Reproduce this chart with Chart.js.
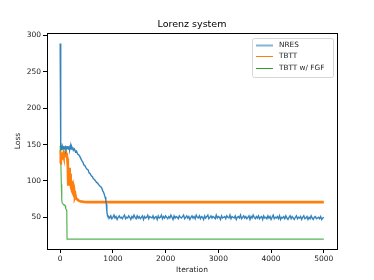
<!DOCTYPE html>
<html>
<head>
<meta charset="utf-8">
<script src="https://cdn.jsdelivr.net/npm/chart.js@4.4.1/dist/chart.umd.min.js"></script>
<style>
  html, body { margin: 0; padding: 0; background: #fff; }
  #chart { display: block; }
</style>
</head>
<body>
<canvas id="chart" width="374" height="280"></canvas>
<script>
const chartTitle = 'Lorenz system';
const seriesNames = ['NRES', 'TBTT', 'TBTT w/ FGF'];
const xTicks = [0, 1000, 2000, 3000, 4000, 5000];
const yTicks = [50, 100, 150, 200, 250, 300];

// NRES: detailed start, then a noisy plateau sampled every 20 iterations
const nresIter = [0, 5, 10, 15, 20, 30, 40, 50, 60, 70, 80, 90, 100, 110, 120, 130, 140, 150, 160, 170,
  180, 190, 200, 210, 220, 230, 240, 250, 270, 290, 310, 330, 350, 370, 390, 410, 430, 450, 470, 490,
  510, 530, 550, 570, 590, 610, 630, 650, 670, 690, 710, 730, 750, 770, 790, 810, 830, 850, 865, 875,
  885, 895, 905];
const nresLoss = [289, 240, 180, 150, 143, 146, 144, 147, 145, 148, 144, 146, 147, 143, 146, 145, 148, 144, 146, 147,
  143, 146, 147, 144, 147, 145, 146, 142, 144, 140, 141, 137, 136, 134, 131, 128, 126, 122, 121, 118,
  116, 115, 111, 110, 107, 106, 103, 102, 100, 98, 97, 95, 93, 92, 90, 86, 83, 78, 74, 68,
  58, 53, 51];
const nresTailStart = 920;
const nresTailStep = 20;
const nresTail = [
  51, 49, 52, 48, 50, 53, 49, 51, 47, 50,
  52, 49, 50, 48, 51, 53, 48, 50, 49, 52,
  50, 47, 51, 49, 53, 50, 48, 52, 49, 51,
  48, 50, 52, 47, 51, 49, 50, 53, 48, 51,
  50, 49, 52, 48, 50, 51, 47, 52, 49, 50,
  53, 48, 51, 49, 52, 50, 48, 51, 49, 53,
  50, 47, 52, 49, 51, 50, 48, 52, 50, 49,
  51, 53, 48, 50, 52, 49, 51, 47, 50, 52,
  49, 51, 48, 53, 50, 49, 52, 48, 51, 50,
  47, 52, 49, 51, 53, 48, 50, 52, 49, 51,
  50, 48, 53, 49, 51, 50, 47, 52, 49, 50,
  51, 48, 52, 50, 49, 53, 48, 51, 50, 49,
  52, 47, 50, 51, 49, 53, 48, 50, 52, 49,
  51, 48, 50, 52, 47, 51, 49, 53, 50, 48,
  51, 49, 52, 48, 50, 51, 47, 52, 49, 50,
  48, 52, 49, 51, 47, 50, 53, 48, 50, 49,
  51, 48, 52, 47, 50, 49, 51, 48, 52, 49,
  47, 50, 52, 48, 51, 49, 47, 50, 52, 48,
  50, 49, 51, 47, 50, 52, 48, 49, 51, 47,
  50, 48, 52, 49, 47, 50, 51, 48, 49, 50,
  48, 51, 47, 49, 50];

const tbttIter = [0, 8, 15, 25, 35, 45, 55, 65, 75, 85, 95, 105, 115, 125, 135, 145, 152, 158, 165, 172,
  180, 188, 195, 202, 210, 218, 226, 234, 242, 250, 260, 270, 280, 290, 300, 320, 340, 360, 380, 420,
  460, 500, 5000];
const tbttLoss = [124, 130, 136, 134, 136, 135, 137, 134, 135, 136, 134, 135, 138, 136, 131, 120, 95, 112, 100, 118,
  96, 110, 93, 105, 90, 100, 86, 95, 84, 89, 80, 84, 78, 80, 76, 75, 73.5, 72.5, 72, 71.5,
  71, 70.8, 70.8];

const fgfIter = [0, 8, 15, 22, 30, 40, 55, 70, 85, 95, 100, 110, 118, 125, 130, 5000];
const fgfLoss = [148, 152, 130, 95, 73, 70, 68, 67, 67, 66, 63, 62, 60, 58, 20, 20];

const font = 'DejaVu Sans, sans-serif';

function toPoints(xs, ys) {
  return xs.map((x, i) => ({ x: x, y: ys[i] }));
}

const nresPoints = toPoints(nresIter, nresLoss)
  .concat(nresTail.map((y, i) => ({ x: nresTailStart + i * nresTailStep, y: y })));

const legendStyles = [
  { color: 'rgba(31,119,180,0.55)', width: 2 },
  { color: '#ff7f0e', width: 1 },
  { color: '#2ca02c', width: 1 }
];

const framePlugin = {
  id: 'frame',
  afterDraw(chart) {
    const { ctx, chartArea: a } = chart;
    ctx.save();
    ctx.strokeStyle = '#000';
    ctx.lineWidth = 1;
    ctx.strokeRect(Math.round(a.left) + 0.5, Math.round(a.top) + 0.5, Math.round(a.right - a.left), Math.round(a.bottom - a.top));

    ctx.fillStyle = '#000';
    ctx.font = '9.5px ' + font;
    ctx.textAlign = 'center';
    ctx.textBaseline = 'middle';
    ctx.fillText(chartTitle, (a.left + a.right) / 2, 25);

    // legend box in the upper right corner
    const bx = a.right - 85, by = a.top + 5, bw = 81, bh = 39;
    ctx.fillStyle = 'rgba(255,255,255,0.85)';
    ctx.strokeStyle = '#d6d6d6';
    ctx.lineWidth = 1;
    ctx.beginPath();
    ctx.roundRect(bx + 0.5, by + 0.5, bw, bh, 2);
    ctx.fill();
    ctx.stroke();
    ctx.font = '7.3px ' + font;
    ctx.textAlign = 'left';
    seriesNames.forEach((name, i) => {
      const y = Math.round(by + 6.5 + i * 11.5) + 0.5;
      ctx.strokeStyle = legendStyles[i].color;
      ctx.lineWidth = legendStyles[i].width;
      ctx.beginPath();
      ctx.moveTo(bx + 4, y);
      ctx.lineTo(bx + 21, y);
      ctx.stroke();
      ctx.fillStyle = '#222';
      ctx.fillText(name, bx + 27, y);
    });
    ctx.restore();
  }
};

const axisCommon = {
  type: 'linear',
  grid: { drawOnChartArea: false, drawTicks: true, tickLength: 4, color: '#000' },
  border: { display: false },
  ticks: { font: { family: font, size: 7.5 }, color: '#222', padding: 2, maxRotation: 0, callback: v => String(v) }
};

new Chart(document.getElementById('chart').getContext('2d'), {
  type: 'line',
  data: {
    datasets: [
      { label: seriesNames[0], data: nresPoints, borderColor: 'rgba(31,119,180,0.9)', borderWidth: 1.4 },
      { label: seriesNames[1], data: toPoints(tbttIter, tbttLoss), borderColor: '#ff7f0e', borderWidth: 2.6 },
      { label: seriesNames[2], data: toPoints(fgfIter, fgfLoss), borderColor: 'rgba(44,160,44,0.8)', borderWidth: 1.2 }
    ]
  },
  options: {
    responsive: false,
    animation: false,
    devicePixelRatio: 1,
    layout: { padding: { top: 33, right: 37, left: 0, bottom: 0 } },
    elements: { point: { radius: 0 }, line: { tension: 0 } },
    plugins: { legend: { display: false }, title: { display: false }, tooltip: { enabled: false } },
    scales: {
      x: {
        ...axisCommon,
        min: -250,
        max: 5250,
        afterBuildTicks: s => { s.ticks = xTicks.map(v => ({ value: v })); },
        afterFit: s => { s.height = 31; },
        title: { display: true, text: 'Iteration', font: { family: font, size: 7.5 }, color: '#222', padding: { top: 1, bottom: 5 } }
      },
      y: {
        ...axisCommon,
        min: 6.4,
        max: 303.4,
        afterBuildTicks: s => { s.ticks = yTicks.map(v => ({ value: v })); },
        afterFit: s => { s.width = 47; },
        title: { display: true, text: 'Loss', font: { family: font, size: 7.5 }, color: '#222', padding: { top: 14, bottom: 0 } }
      }
    }
  },
  plugins: [framePlugin]
});
</script>
</body>
</html>
